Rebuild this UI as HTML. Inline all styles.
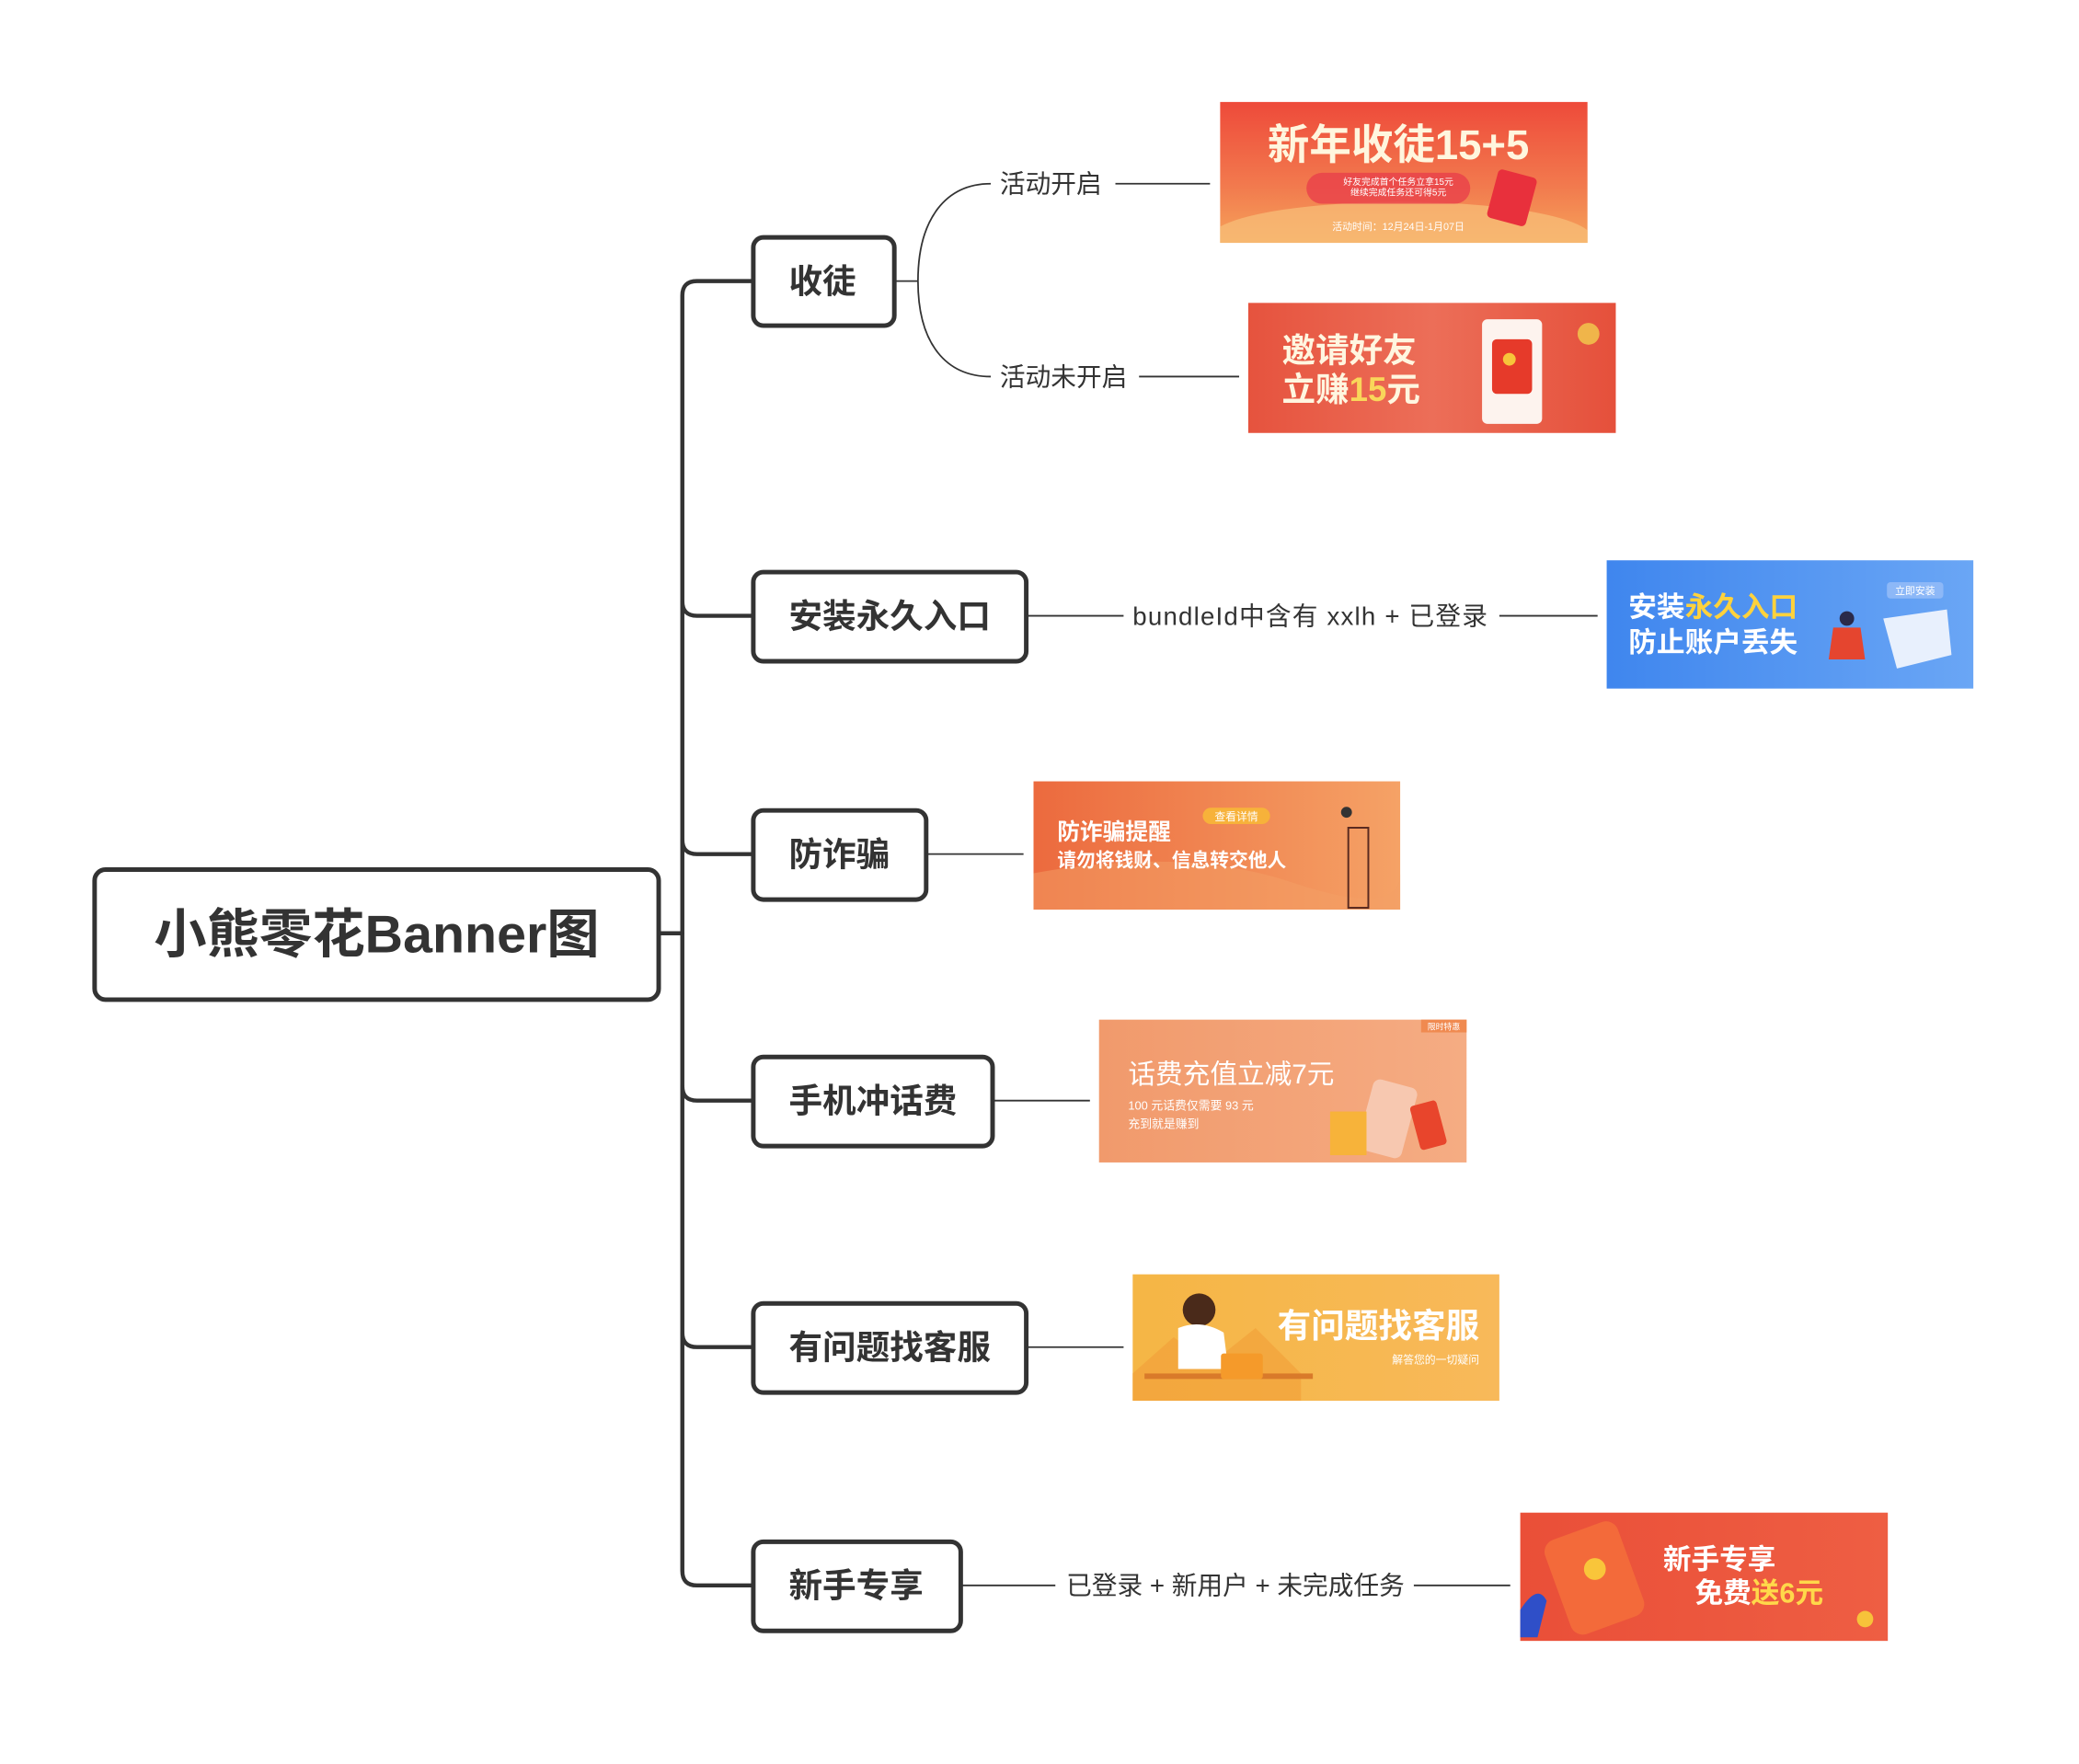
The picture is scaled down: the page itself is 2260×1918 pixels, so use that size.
<!DOCTYPE html>
<html><head><meta charset="utf-8">
<style>
html,body{margin:0;padding:0;background:#fff;}
svg{display:block;}
text{font-family:"Liberation Sans","Noto Sans CJK SC",sans-serif;}
</style></head>
<body>
<svg width="2260" height="1918" viewBox="0 0 2260 1918" xmlns="http://www.w3.org/2000/svg">
<defs>
<linearGradient id="g1" x1="0" y1="0" x2="0" y2="1"><stop offset="0" stop-color="#ee4a3a"/><stop offset="0.6" stop-color="#f27a4e"/><stop offset="1" stop-color="#f5a35a"/></linearGradient>
<linearGradient id="g2" x1="0" y1="0" x2="1" y2="0"><stop offset="0" stop-color="#e6533e"/><stop offset="0.5" stop-color="#ec6e58"/><stop offset="1" stop-color="#e5503b"/></linearGradient>
<linearGradient id="g3" x1="0" y1="0" x2="1" y2="0"><stop offset="0" stop-color="#3f86ee"/><stop offset="1" stop-color="#6aa6f5"/></linearGradient>
<linearGradient id="g4" x1="0" y1="0" x2="1" y2="0"><stop offset="0" stop-color="#ec6a3e"/><stop offset="1" stop-color="#f5a266"/></linearGradient>
<linearGradient id="g5" x1="0" y1="0" x2="1" y2="0"><stop offset="0" stop-color="#f19a6c"/><stop offset="1" stop-color="#f5ac83"/></linearGradient>
<linearGradient id="g6" x1="0" y1="0" x2="1" y2="0"><stop offset="0" stop-color="#f5b645"/><stop offset="1" stop-color="#f8b95a"/></linearGradient>
<linearGradient id="g7" x1="0" y1="0" x2="1" y2="0"><stop offset="0" stop-color="#ea4f38"/><stop offset="1" stop-color="#ee5e43"/></linearGradient>
<clipPath id="c1"><rect x="1341" y="112" width="404" height="155"/></clipPath>
</defs>
<g transform="scale(0.989)">
<!-- trunk -->
<g fill="none" stroke="#333" stroke-width="4.5" stroke-linecap="round">
<path d="M724 1026 H750"/>
<path d="M827 309 H766 Q750 309 750 325 V1727 Q750 1743 766 1743 H827"/>
<path d="M750 661 Q750 677 766 677 H827"/>
<path d="M750 923 Q750 939 766 939 H827"/>
<path d="M750 1194 Q750 1210 766 1210 H827"/>
<path d="M750 1465 Q750 1481 766 1481 H827"/>
</g>

<!-- root -->
<rect x="104" y="956" width="620" height="143" rx="12" fill="#fff" stroke="#333" stroke-width="5"/>
<text x="414" y="1047" font-size="58" font-weight="bold" fill="#333" text-anchor="middle">小熊零花Banner图</text>

<!-- children -->
<g fill="#fff" stroke="#333" stroke-width="5">
<rect x="828" y="261" width="155" height="97" rx="11"/>
<rect x="828" y="629" width="300" height="98" rx="11"/>
<rect x="828" y="891" width="190" height="98" rx="11"/>
<rect x="828" y="1162" width="263" height="98" rx="11"/>
<rect x="828" y="1433" width="300" height="98" rx="11"/>
<rect x="828" y="1695" width="228" height="98" rx="11"/>
</g>
<g font-size="37" font-weight="bold" fill="#333">
<text x="867" y="322">收徒</text>
<text x="867" y="690">安装永久入口</text>
<text x="867" y="952">防诈骗</text>
<text x="867" y="1223">手机冲话费</text>
<text x="867" y="1494">有问题找客服</text>
<text x="867" y="1756">新手专享</text>
</g>

<!-- thin connectors -->
<g fill="none" stroke="#333" stroke-width="1.8">
<path d="M983 309 H1009"/>
<path d="M1009 309 C1009 240 1040 202 1089 202"/>
<path d="M1009 309 C1009 378 1040 414 1089 414"/>
<path d="M1226 202 H1330"/>
<path d="M1252 414 H1362"/>
<path d="M1128 677 H1235"/><path d="M1648 677 H1756"/>
<path d="M1018 939 H1125"/>
<path d="M1091 1210 H1198"/>
<path d="M1128 1481 H1235"/>
<path d="M1056 1743 H1160"/><path d="M1554 1743 H1660"/>
</g>
<g font-size="28" fill="#333">
<text x="1099" y="212">活动开启</text>
<text x="1099" y="424">活动未开启</text>
<text x="1245" y="687" textLength="390" lengthAdjust="spacing">bundleId中含有 xxlh + 已登录</text>
<text x="1172" y="1753">已登录 + 新用户 + 未完成任务</text>
</g>

<!-- banner 1 -->
<g clip-path="url(#c1)">
<rect x="1341" y="112" width="404" height="155" fill="url(#g1)"/>
<ellipse cx="1540" cy="262" rx="210" ry="40" fill="#f8c07a" opacity="0.7"/>
<rect x="1640" y="190" width="44" height="55" rx="5" fill="#e8303c" transform="rotate(15 1662 217)"/>
</g>
<rect x="1436" y="190" width="180" height="34" rx="17" fill="#e8404a" opacity="0.8"/>
<text x="1537" y="175" font-size="46" font-weight="bold" fill="#fff6de" text-anchor="middle">新年收徒15+5</text>
<text x="1537" y="203" font-size="10" fill="#fff" text-anchor="middle">好友完成首个任务立拿15元</text>
<text x="1537" y="215" font-size="10" fill="#fff" text-anchor="middle">继续完成任务还可得5元</text>
<text x="1537" y="253" font-size="11" fill="#fff" text-anchor="middle">活动时间：12月24日-1月07日</text>

<!-- banner 2 -->
<rect x="1372" y="333" width="404" height="143" fill="url(#g2)"/>
<rect x="1629" y="351" width="66" height="115" rx="6" fill="#fdf3ee"/>
<rect x="1640" y="373" width="44" height="60" rx="5" fill="#e63a2a"/>
<circle cx="1659" cy="395" r="7" fill="#f7c43a"/>
<circle cx="1746" cy="367" r="12" fill="#f0b54a"/>
<text x="1409" y="398" font-size="37" font-weight="bold" fill="#fff6e0">邀请好友</text>
<text x="1409" y="441" font-size="37" font-weight="bold" fill="#fff6e0">立赚<tspan fill="#f9d65a">15</tspan>元</text>

<!-- banner 3 -->
<rect x="1766" y="616" width="403" height="141" fill="url(#g3)"/>
<path d="M2070 680 L2140 670 L2145 720 L2085 735 Z" fill="#e8f0fd"/>
<rect x="2074" y="640" width="62" height="18" rx="4" fill="#8db8f7"/>
<text x="2105" y="653" font-size="11" fill="#fff" text-anchor="middle">立即安装</text>
<circle cx="2030" cy="680" r="8" fill="#2a2a4a"/>
<path d="M2015 690 L2045 690 L2050 725 L2010 725 Z" fill="#e5452f"/>
<text x="1790" y="678" font-size="31" font-weight="bold" fill="#fff">安装<tspan fill="#ffd23c">永久入口</tspan></text>
<text x="1790" y="717" font-size="31" font-weight="bold" fill="#fff">防止账户丢失</text>

<!-- banner 4 -->
<rect x="1136" y="859" width="403" height="141" fill="url(#g4)"/>
<path d="M1136 960 Q1300 930 1420 970 T1539 960 V1000 H1136 Z" fill="#f3a066" opacity="0.5"/>
<rect x="1322" y="888" width="74" height="18" rx="9" fill="#f7b23a"/>
<text x="1359" y="902" font-size="12" fill="#fff" text-anchor="middle">查看详情</text>
<rect x="1482" y="910" width="22" height="88" fill="none" stroke="#5a2a20" stroke-width="2"/>
<circle cx="1480" cy="893" r="6" fill="#333"/>
<text x="1162" y="923" font-size="25" font-weight="bold" fill="#fff">防诈骗提醒</text>
<text x="1162" y="953" font-size="21" font-weight="bold" fill="#fff">请勿将钱财、信息转交他人</text>

<!-- banner 5 -->
<rect x="1208" y="1121" width="404" height="157" fill="url(#g5)"/>
<rect x="1562" y="1121" width="50" height="14" fill="#f08a50"/>
<text x="1587" y="1132" font-size="9" fill="#fff" text-anchor="middle">限时特惠</text>
<rect x="1500" y="1190" width="50" height="80" rx="8" fill="#f7c8b0" transform="rotate(15 1525 1230)"/>
<rect x="1462" y="1222" width="40" height="48" fill="#f7b33a"/>
<rect x="1555" y="1212" width="30" height="50" rx="4" fill="#e8452c" transform="rotate(-15 1570 1237)"/>
<text x="1240" y="1191" font-size="30" fill="#fff">话费充值立减7元</text>
<text x="1240" y="1220" font-size="13" fill="#fff">100 元话费仅需要 93 元</text>
<text x="1240" y="1240" font-size="13" fill="#fff">充到就是赚到</text>

<!-- banner 6 -->
<rect x="1245" y="1401" width="403" height="139" fill="url(#g6)"/>
<path d="M1245 1510 L1290 1470 L1330 1500 L1380 1460 L1430 1510 V1540 H1245 Z" fill="#f2a13a" opacity="0.7"/>
<rect x="1258" y="1510" width="185" height="6" fill="#d97a2a"/>
<circle cx="1318" cy="1440" r="18" fill="#4a2a1a"/>
<path d="M1295 1460 Q1320 1450 1345 1465 L1350 1505 L1295 1505 Z" fill="#fff"/>
<rect x="1342" y="1488" width="46" height="28" rx="3" fill="#f59a2a"/>
<text x="1626" y="1470" font-size="37" font-weight="bold" fill="#fff" text-anchor="end">有问题找客服</text>
<text x="1626" y="1499" font-size="12" fill="#fff" text-anchor="end">解答您的一切疑问</text>

<!-- banner 7 -->
<rect x="1671" y="1663" width="404" height="141" fill="url(#g7)"/>
<rect x="1710" y="1680" width="85" height="110" rx="14" fill="#f36a3a" transform="rotate(-20 1752 1735)"/>
<circle cx="1753" cy="1725" r="12" fill="#f9c53a"/>
<path d="M1671 1770 Q1690 1740 1700 1760 L1690 1800 H1671 Z" fill="#2f4fc8"/>
<text x="1828" y="1725" font-size="31" font-weight="bold" fill="#fff">新手专享</text>
<text x="1863" y="1762" font-size="31" font-weight="bold" fill="#fff">免费<tspan fill="#ffd84a">送6元</tspan></text>
<circle cx="2050" cy="1780" r="9" fill="#f7c23a"/>
</g>
</svg>
</body></html>
